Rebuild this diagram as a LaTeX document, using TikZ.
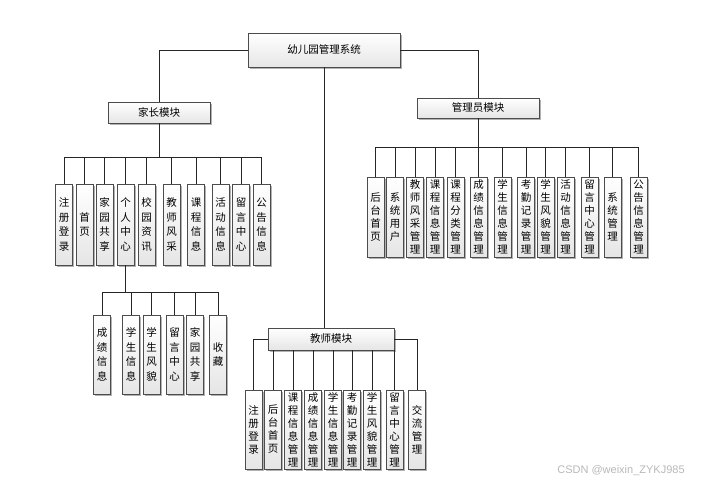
\documentclass[tikz,border=0pt]{standalone}
\usepackage{fontspec}
\newfontfamily\cjk{Noto Sans CJK SC}
\newfontfamily\wmfont{Liberation Sans}
\usetikzlibrary{shadows}
\begin{document}
\begin{tikzpicture}[x=1pt,y=-1pt,
  boxbase/.style={draw=black!70, line width=0.6pt, top color=white, bottom color=gray!20,
    inner sep=0pt, drop shadow={shadow xshift=1.5pt, shadow yshift=-1.5pt, fill=gray!60, opacity=1}},
  hbox/.style={boxbase, font=\cjk\fontsize{10.5}{13}\selectfont},
  vbox/.style={boxbase, align=center, minimum width=17pt, font=\cjk\fontsize{10.5}{14.5}\selectfont},
  vboxl/.style={boxbase, align=center, minimum width=17pt, font=\cjk\fontsize{10.5}{13}\selectfont},
  conn/.style={draw=black!85, line width=0.8pt}]
\fill[white] (0,0) rectangle (709,483);
\useasboundingbox (0,0) rectangle (709,483);

% top-level
\node[hbox, minimum width=152pt, minimum height=34pt] (root) at (324,50) {幼儿园管理系统};
\node[hbox, minimum width=102pt, minimum height=21pt] (pm) at (159,112.5) {家长模块};
\node[hbox, minimum width=122pt, minimum height=20pt] (am) at (478,108) {管理员模块};
\node[hbox, minimum width=126pt, minimum height=22pt] (tm) at (331,339) {教师模块};

% parent children
\begin{scope}[every node/.style={vbox, minimum height=81pt}]
\node (p1) at (64,224.5) {注\\册\\登\\录};
\node (p2) at (84.5,224.5) {首\\页};
\node (p3) at (104.5,224.5) {家\\园\\共\\享};
\node (p4) at (125.5,224.5) {个\\人\\中\\心};
\node (p5) at (146.5,224.5) {校\\园\\资\\讯};
\node (p6) at (171.5,224.5) {教\\师\\风\\采};
\node (p7) at (196,224.5) {课\\程\\信\\息};
\node (p8) at (220.5,224.5) {活\\动\\信\\息};
\node (p9) at (241,224.5) {留\\言\\中\\心};
\node (p10) at (261.5,224.5) {公\\告\\信\\息};
\end{scope}

% personal centre children
\begin{scope}[every node/.style={vbox, minimum height=79pt}]
\node (q1) at (102,354.5) {成\\绩\\信\\息};
\node (q2) at (131,354.5) {学\\生\\信\\息};
\node (q3) at (151.5,354.5) {学\\生\\风\\貌};
\node (q4) at (174.5,354.5) {留\\言\\中\\心};
\node (q5) at (195,354.5) {家\\园\\共\\享};
\node (q6) at (218,354.5) {收\\藏};
\end{scope}

% admin children
\begin{scope}[every node/.style={vboxl, minimum height=80pt}]
\node (a1) at (375.5,217) {后\\台\\首\\页};
\node (a2) at (395,217) {系\\统\\用\\户};
\node (a3) at (415,217) {教\\师\\风\\采\\管\\理};
\node (a4) at (435,217) {课\\程\\信\\息\\管\\理};
\node (a5) at (455.5,217) {课\\程\\分\\类\\管\\理};
\node (a6) at (478.5,217) {成\\绩\\信\\息\\管\\理};
\node (a7) at (502.5,217) {学\\生\\信\\息\\管\\理};
\node (a8) at (526,217) {考\\勤\\记\\录\\管\\理};
\node (a9) at (545.5,217) {学\\生\\风\\貌\\管\\理};
\node (a10) at (565.5,217) {活\\动\\信\\息\\管\\理};
\node (a11) at (589.5,217) {留\\言\\中\\心\\管\\理};
\node (a12) at (612.5,217) {系\\统\\管\\理};
\node (a13) at (638.5,217) {公\\告\\信\\息\\管\\理};
\end{scope}

% teacher children
\begin{scope}[every node/.style={vboxl, minimum height=79pt}]
\node (t1) at (253.5,429.5) {注\\册\\登\\录};
\node (t2) at (273,429.5) {后\\台\\首\\页};
\node (t3) at (293,429.5) {课\\程\\信\\息\\管\\理};
\node (t4) at (313,429.5) {成\\绩\\信\\息\\管\\理};
\node (t5) at (333,429.5) {学\\生\\信\\息\\管\\理};
\node (t6) at (352,429.5) {考\\勤\\记\\录\\管\\理};
\node (t7) at (372,429.5) {学\\生\\风\\貌\\管\\理};
\node (t8) at (394.5,429.5) {留\\言\\中\\心\\管\\理};
\node (t9) at (417,429.5) {交\\流\\管\\理};
\end{scope}

% connectors from root
\draw[conn] (root.west) -| (pm.north);
\draw[conn] (root.east) -| (am.north);
\draw[conn] (root.south) -- (root.south |- tm.north);

% parent bus
\coordinate (pbus) at (159,157);
\draw[conn] (pm.south) -- (pbus);
\foreach \n in {p1,p2,p3,p4,p5,p6,p7,p8,p9,p10} \draw[conn] (pbus) -| (\n.north);

% personal centre bus
\coordinate (qbus) at (125.5,292);
\draw[conn] (p4.south) -- (qbus);
\foreach \n in {q1,q2,q3,q4,q5,q6} \draw[conn] (qbus) -| (\n.north);

% admin bus
\coordinate (abus) at (478,147);
\draw[conn] (am.south) -- (abus);
\foreach \n in {a1,a2,a3,a4,a5,a6,a7,a8,a9,a10,a11,a12,a13} \draw[conn] (abus) -| (\n.north);

% teacher
\draw[conn] (tm.west) -| (t1.north);
\draw[conn] (tm.east) -| (t9.north);
\foreach \n in {t2,t3,t4,t5,t6,t7,t8} \draw[conn] (\n.north |- tm.south) -- (\n.north);

% watermark
\node[text=gray!55, font=\wmfont\fontsize{11}{13}\selectfont, inner sep=0pt] (wm) at (621,471) {CSDN @weixin\_ZYKJ985};
\end{tikzpicture}
\end{document}
